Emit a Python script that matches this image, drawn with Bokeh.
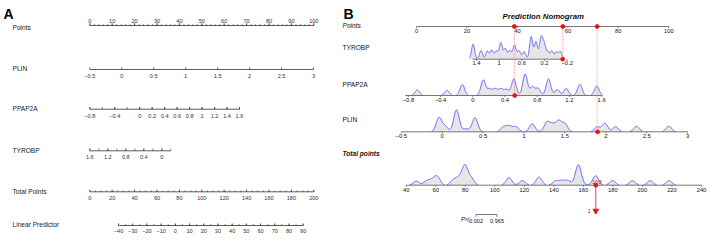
import numpy as np
from bokeh.plotting import figure
from bokeh.models import Range1d
from bokeh.embed import file_html
from bokeh.resources import INLINE
from bokeh.core.properties import value

# ====================== data ======================
# Panel A: rms-style nomogram
a_row_names = ["Points", "PLIN", "PPAP2A", "TYROBP", "Total Points", "Linear Predictor"]
a_points_ticks = [0, 10, 20, 30, 40, 50, 60, 70, 80, 90, 100]
a_plin_ticks = [-0.5, 0, 0.5, 1, 1.5, 2, 2.5, 3]
a_ppap2a_ticks = [-0.8, -0.4, 0, 0.2, 0.4, 0.6, 0.8, 1, 1.2, 1.4, 1.6]
a_tyrobp_ticks = [1.6, 1.2, 0.8, 0.4, 0]
a_total_ticks = [0, 20, 40, 60, 80, 100, 120, 140, 160, 180, 200]
a_lp_ticks = [-40, -30, -20, -10, 0, 10, 20, 30, 40, 50, 60, 70, 80, 90]

# Panel B: regplot-style nomogram
b_title = "Prediction Nomogram"
b_row_names = ["Points", "TYROBP", "PPAP2A", "PLIN", "Total points"]
b_points_ticks = [0, 20, 40, 60, 80, 100]
b_tyrobp_ticks = [1.4, 1, 0.6, 0.2, -0.2]
b_ppap2a_ticks = [-0.8, -0.4, 0, 0.4, 0.8, 1.2, 1.6]
b_plin_ticks = [-0.5, 0, 0.5, 1, 1.5, 2, 2.5, 3]
b_total_ticks = [40, 60, 80, 100, 120, 140, 160, 180, 200, 220, 240]
b_prob_ticks = [0.002, 0.965]

# density peaks (location in variable units, peak height)
tyrobp_peak_x = [1.46, 1.32, 1.21, 1.13, 1.05, 0.97, 0.89, 0.81, 0.73, 0.65, 0.56,
                 0.435, 0.35, 0.26, 0.205, 0.14, 0.07, -0.01, -0.08]
tyrobp_peak_h = [15, 8.5, 8, 9, 8, 16.5, 10.5, 8.5, 14, 8.5, 7.5,
                 22.5, 17.5, 21, 14, 6.5, 8, 7, 7.5]
ppap2a_peak_x = [-0.69, -0.32, -0.13, 0.13, 0.21, 0.28, 0.35, 0.42, 0.51, 0.65,
                 0.74, 0.81, 0.94, 1.05, 1.16, 1.33, 1.54]
ppap2a_peak_h = [5.5, 5, 11, 15.5, 6.5, 6.5, 6.5, 6, 16.5, 21.5,
                 8.5, 7, 16.5, 6, 7, 11, 9.5]
plin_peak_x = [-0.04, 0.035, 0.175, 0.29, 0.40, 0.75, 0.82, 0.90, 1.10, 1.28, 1.35,
               1.425, 1.50, 1.895, 1.99, 2.12, 2.375, 2.77]
plin_peak_h = [14, 5.5, 22, 3, 14, 5, 5.5, 5, 8, 9.5, 7,
               10.5, 8, 5, 8.5, 5, 5.5, 5.5]
total_peak_x = [46.8, 53.8, 57.5, 61.0, 72.0, 75.5, 79.7, 84.0, 109.6, 118.6, 129.9,
                141.2, 145.3, 149.4, 156.6, 168.3, 179.7, 193.2, 205.2, 218.0]
total_peak_h = [4, 4, 4.5, 8.5, 5, 6, 19.5, 7, 7.5, 4.5, 8,
                4, 4, 4.5, 20.5, 9.5, 4.5, 4.5, 4.5, 4.5]

# highlighted observation
obs_tyrobp = -0.12
obs_ppap2a = 0.52
obs_plin = 1.9
obs_points = [58.0, 38.8, 71.6]   # TYROBP, PPAP2A, PLIN
obs_prob_label = "1"

# ====================== layout ======================
W, H = 708, 242
FONT = value("Liberation Sans")

# (value1, pixel1, value2, pixel2) for each nomogram scale
anchors = {
    "a_points": (0, 89.3, 100, 313.3),
    "a_plin": (-0.5, 89.3, 3, 313.0),
    "a_ppap2a": (-0.8, 89.3, 1.6, 239.0),
    "a_tyrobp": (1.6, 89.3, 0, 161.3),
    "a_total": (0, 89.3, 200, 313.3),
    "a_lp": (-40, 118.0, 90, 302.7),
    "b_points": (0, 416.0, 100, 668.3),
    "b_tyrobp": (1.4, 476.0, 0.2, 544.0),
    "b_ppap2a": (0, 472.3, 1.6, 601.1),
    "b_plin": (0, 441.7, 3, 687.1),
    "b_total": (40, 405.7, 240, 701.0),
    "b_prob": (0.002, 475.5, 0.965, 496.5),
}

p = figure(width=W, height=H, output_backend="svg", toolbar_location=None,
           x_range=Range1d(0, W), y_range=Range1d(H, 0), min_border=0,
           outline_line_color=None, background_fill_color="white")
p.axis.visible = False
p.grid.visible = False

extra = {}
for name, (v1, p1, v2, p2) in anchors.items():
    k = (v2 - v1) / (p2 - p1)
    start = v1 - p1 * k
    extra[name] = Range1d(start=start, end=start + W * k)
p.extra_x_ranges = extra


def fmt(v):
    return f"{v:g}".replace("-", "\u2212")


def draw_axis(rng, lo, hi, y, label_ticks, label_y, tlen, color, tcolor, fs,
              tick_vals=None, minor_step=None, mlen=0.0):
    p.segment(x0=[lo], y0=[y], x1=[hi], y1=[y], x_range_name=rng,
              line_color=color, line_width=0.8)
    if minor_step:
        a, b = min(lo, hi), max(lo, hi)
        mv = list(np.arange(a, b + minor_step * 0.01, minor_step))
        p.segment(x0=mv, y0=[y] * len(mv), x1=mv, y1=[y + mlen] * len(mv),
                  x_range_name=rng, line_color=color, line_width=0.6)
    tv = label_ticks if tick_vals is None else tick_vals
    p.segment(x0=tv, y0=[y] * len(tv), x1=tv, y1=[y + tlen] * len(tv),
              x_range_name=rng, line_color=color, line_width=0.7)
    p.text(x=label_ticks, y=[label_y] * len(label_ticks),
           text=[fmt(v) for v in label_ticks], x_range_name=rng,
           text_align="center", text_baseline="middle", text_font=FONT,
           text_font_size=fs, text_color=tcolor)


# ---------------- Panel A ----------------
p.text(x=[3], y=[13.5], text=["A"], text_font=FONT, text_font_size="14px",
       text_font_style="bold", text_baseline="alphabetic", text_color="black")

a_label_y = [27.3, 68.3, 108.3, 149.7, 191.0, 224.0]
p.text(x=[12] * len(a_row_names), y=a_label_y, text=a_row_names, text_font=FONT,
       text_font_size="6.6px", text_baseline="middle", text_color="#222222")

AC, AT, AFS = "#333333", "#333333", "5.6px"
draw_axis("a_points", 0, 100, 25.0, a_points_ticks, 20.0, -2.5, AC, AT, AFS,
          minor_step=2, mlen=-1.4)
draw_axis("a_plin", -0.5, 3, 69.0, a_plin_ticks, 75.0, -2.2, AC, AT, AFS)
draw_axis("a_ppap2a", -0.8, 1.6, 108.7, a_ppap2a_ticks, 115.5, -2.2, AC, AT, AFS,
          minor_step=0.2, mlen=-2.2)
draw_axis("a_tyrobp", 1.6, -0.2, 150.3, a_tyrobp_ticks, 156.5, -2.2, AC, AT, AFS,
          minor_step=0.2, mlen=-2.2)
draw_axis("a_total", 0, 200, 191.3, a_total_ticks, 197.5, -2.2, AC, AT, AFS,
          minor_step=5, mlen=-1.4)
draw_axis("a_lp", -40, 90, 225.0, a_lp_ticks, 230.5, -2.2, AC, AT, AFS,
          minor_step=5, mlen=-1.4)

# ---------------- Panel B ----------------
p.text(x=[343], y=[13.5], text=["B"], text_font=FONT, text_font_size="14px",
       text_font_style="bold", text_baseline="alphabetic", text_color="black")
p.text(x=[542.7], y=[16.3], text=[b_title], text_font=FONT, text_font_size="7.8px",
       text_font_style="bold italic", text_align="center", text_baseline="middle",
       text_color="#111111")

b_label_y = [24.5, 47.0, 84.0, 118.5, 153.0]
b_label_style = ["italic", "normal", "normal", "normal", "bold italic"]
for name, yy, st in zip(b_row_names, b_label_y, b_label_style):
    p.text(x=[342], y=[yy], text=[name], text_font=FONT, text_font_size="6.6px",
           text_font_style=st, text_baseline="middle", text_color="#111111")

FILL, CURVE = "#e6e6e6", "#5252ff"


def density(rng, px, ph, sigma, lo, hi, base):
    xs = np.linspace(lo, hi, 700)
    ys = np.zeros_like(xs)
    for c, h in zip(px, ph):
        ys += h * np.exp(-0.5 * ((xs - c) / sigma) ** 2)
    p.varea(x=xs, y1=np.full_like(xs, base), y2=base - ys, x_range_name=rng,
            fill_color=FILL)
    yl = np.where(ys > 0.35, base - ys, np.nan)
    p.line(x=xs, y=yl, x_range_name=rng, line_color=CURVE, line_width=0.85)


Y_TYR, Y_PPA, Y_PLIN, Y_TOT, Y_PTS = 58.7, 95.0, 131.3, 184.7, 26.0
density("b_tyrobp", tyrobp_peak_x, tyrobp_peak_h, 0.028, 1.52, -0.15, Y_TYR)
density("b_ppap2a", ppap2a_peak_x, ppap2a_peak_h, 0.029, -0.85, 1.62, Y_PPA)
density("b_plin", plin_peak_x, plin_peak_h, 0.034, -0.25, 2.95, Y_PLIN)
density("b_total", total_peak_x, total_peak_h, 2.0, 40, 230, Y_TOT)

BC, BT, BFS = "#555555", "#111111", "5.8px"
draw_axis("b_points", 0, 100, Y_PTS, b_points_ticks, 30.0, 1.6, BC, BT, BFS)
draw_axis("b_tyrobp", 1.47, -0.13, Y_TYR, b_tyrobp_ticks, 62.8, 1.6, BC, BT, BFS)
draw_axis("b_ppap2a", -0.84, 1.6, Y_PPA, b_ppap2a_ticks, 99.0, 1.6, BC, BT, BFS)
draw_axis("b_plin", -0.5, 3, Y_PLIN, b_plin_ticks, 135.2, 1.6, BC, BT, BFS)
draw_axis("b_total", 40, 240, Y_TOT, b_total_ticks, 189.0, 1.6, BC, BT, BFS)
draw_axis("b_prob", 0.002, 0.965, 214.0, b_prob_ticks, 220.6, 2.4, BC, BT, "5.6px")
p.text(x=[460.5], y=[217.5], text=["Pr( "], text_font=FONT, text_font_size="6.2px",
       text_font_style="italic", text_baseline="middle", text_color="#111111")

# highlighted observation
RED, PINK = "#ee1111", "#ff8a8a"
obs_vals = [("b_tyrobp", obs_tyrobp, Y_TYR), ("b_ppap2a", obs_ppap2a, Y_PPA),
            ("b_plin", obs_plin, Y_PLIN)]
for pts, (rng, v, yb) in zip(obs_points, obs_vals):
    p.segment(x0=[pts], y0=[Y_PTS], x1=[pts], y1=[yb], x_range_name="b_points",
              line_color=PINK, line_width=0.7, line_dash="2 1")
    p.scatter(x=[v], y=[yb], x_range_name=rng, size=3.8, color=RED)
p.scatter(x=obs_points, y=[Y_PTS] * 3, x_range_name="b_points", size=3.8, color=RED)

total = sum(obs_points)
p.segment(x0=[total], y0=[Y_TOT], x1=[total], y1=[208.5], x_range_name="b_total",
          line_color=RED, line_width=0.8)
p.scatter(x=[total], y=[Y_TOT], x_range_name="b_total", size=3.8, color=RED)
p.scatter(x=[total], y=[210.3], x_range_name="b_total", marker="inverted_triangle",
          size=5.5, color=RED)
p.text(x=[total], y=[181.8], text=[f"{total:.0f}"], x_range_name="b_total",
       x_offset=1, text_font=FONT, text_font_size="5.8px", text_align="center",
       text_baseline="middle", text_color=RED)
p.text(x=[total], y=[210.0], text=[obs_prob_label], x_range_name="b_total",
       x_offset=-5, text_font=FONT, text_font_size="6px", text_font_style="italic",
       text_align="right", text_baseline="middle", text_color=RED)

open("out.html", "w").write(file_html(p, INLINE))
